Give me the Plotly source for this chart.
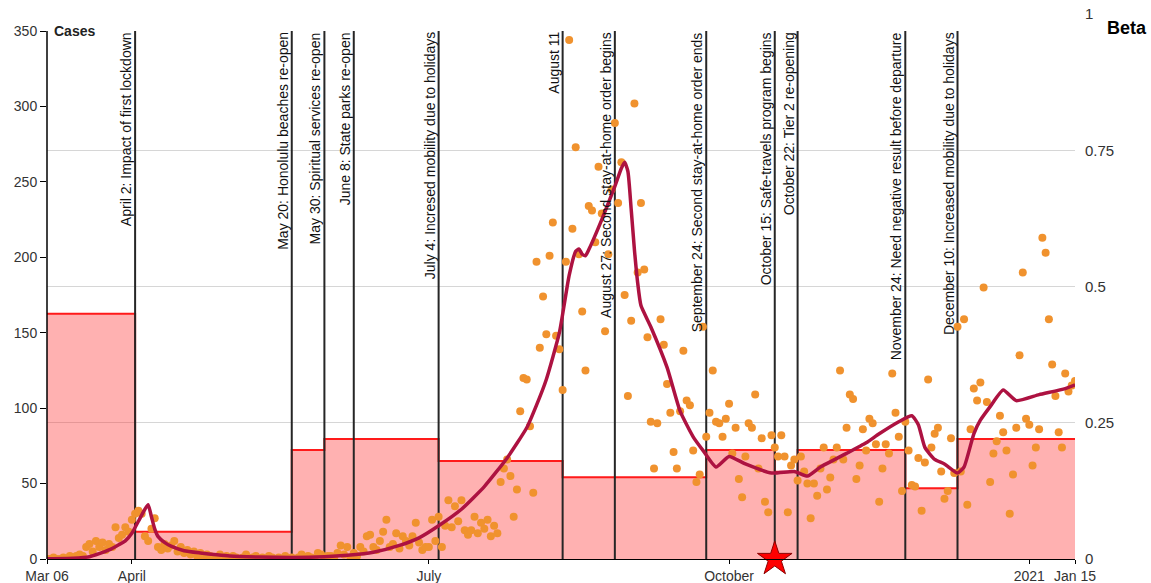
import pandas as pd
import plotly.graph_objects as go

START = "2020-03-06"
END = "2021-01-15"

# Daily reported cases, one list per month (first list starts on Mar 6)
mar_cases = [0, 0, 1, 0, 0, 1, 0, 2, 1, 2, 3, 2, 8, 10, 5, 12, 8, 11, 6, 10, 8, 21, 14, 16, 21, 18]
apr_cases = [26, 30, 32, 30, 15, 12, 20, 27, 8, 6, 10, 7, 9, 12, 5, 8, 4, 6, 3, 5, 2, 4, 1, 3, 2, 0, 1, 3, 0, 2]
may_cases = [0, 2, 1, 0, 1, 3, 0, 1, 2, 0, 1, 0, 2, 1, 0, 1, 0, 2, 0, 1, 0, 1, 3, 0, 2, 1, 0, 4, 3, 1, 2]
jun_cases = [2, 1, 4, 9, 3, 8, 0, 4, 2, 8, 5, 15, 16, 8, 6, 12, 18, 26, 8, 10, 17, 7, 15, 12, 9, 15, 24, 11, 6, 8]
jul_cases = [8, 26, 12, 28, 8, 22, 39, 21, 35, 25, 39, 19, 16, 19, 28, 17, 24, 20, 26, 15, 22, 17, 51, 60, 66, 55, 28, 46, 98, 120, 119]
aug_cases = [88, 44, 197, 140, 174, 149, 201, 223, 148, 139, 112, 197, 344, 219, 273, 202, 164, 125, 234, 231, 210, 260, 229, 151, 202, 245, 289, 236, 263, 175, 108]
sep_cases = [158, 302, 190, 236, 192, 147, 91, 60, 90, 159, 142, 116, 97, 71, 60, 98, 138, 105, 102, 72, 51, 56, 154, 81, 97, 125, 91, 90, 81, 93]
oct_cases = [103, 70, 87, 53, 41, 68, 90, 87, 109, 60, 80, 38, 31, 82, 74, 68, 82, 68, 31, 62, 66, 52, 68, 58, 50, 27, 50, 42, 60, 74, 46]
nov_cases = [54, 66, 74, 125, 66, 87, 109, 106, 53, 62, 86, 72, 93, 90, 76, 38, 60, 76, 70, 123, 97, 81, 45, 91, 72, 49, 48, 67, 32, 64]
dec_cases = [119, 74, 83, 87, 58, 40, 45, 80, 57, 154, 58, 159, 36, 86, 113, 105, 117, 180, 104, 51, 70, 78, 95, 84, 72, 30, 56, 87, 135, 190, 93]
jan_cases = [89, 62, 74, 86, 213, 203, 159, 129, 108, 84, 74, 123, 111, 115, 118]

month_starts = ["2020-03-06", "2020-04-01", "2020-05-01", "2020-06-01", "2020-07-01",
                "2020-08-01", "2020-09-01", "2020-10-01", "2020-11-01", "2020-12-01",
                "2021-01-01"]
month_cases = [mar_cases, apr_cases, may_cases, jun_cases, jul_cases, aug_cases,
               sep_cases, oct_cases, nov_cases, dec_cases, jan_cases]

# Fitted model curve (cases)
curve_dates = ["2020-03-06", "2020-03-14", "2020-03-19", "2020-03-22", "2020-03-25", "2020-03-28",
               "2020-03-30", "2020-04-01", "2020-04-03", "2020-04-05", "2020-04-06", "2020-04-07",
               "2020-04-08", "2020-04-09", "2020-04-11", "2020-04-13", "2020-04-17", "2020-04-22",
               "2020-04-27", "2020-05-01", "2020-05-10", "2020-05-20", "2020-05-30", "2020-06-06",
               "2020-06-14", "2020-06-22", "2020-06-28", "2020-07-04", "2020-07-11", "2020-07-18",
               "2020-07-25", "2020-07-31", "2020-08-03", "2020-08-06", "2020-08-10", "2020-08-13",
               "2020-08-15", "2020-08-16", "2020-08-17", "2020-08-18", "2020-08-19", "2020-08-23",
               "2020-08-27", "2020-08-29", "2020-08-30", "2020-08-31", "2020-09-01", "2020-09-02",
               "2020-09-03", "2020-09-04", "2020-09-07", "2020-09-12", "2020-09-16", "2020-09-20",
               "2020-09-23", "2020-09-27", "2020-10-01", "2020-10-06", "2020-10-14", "2020-10-21",
               "2020-10-25", "2020-10-29", "2020-11-06", "2020-11-12", "2020-11-16", "2020-11-22",
               "2020-11-26", "2020-11-28", "2020-11-30", "2020-12-03", "2020-12-06", "2020-12-10",
               "2020-12-12", "2020-12-15", "2020-12-17", "2020-12-20", "2020-12-24", "2020-12-28",
               "2021-01-04", "2021-01-12", "2021-01-15"]
curve_values = [0.2, 0.5, 1.5, 3.5, 6, 9.5,
                12, 17, 25, 33, 36, 28,
                20, 15, 11, 8.5, 5.5, 4,
                2.8, 2, 1.3, 1, 1.5, 2.5,
                4.5, 9, 14, 22, 33, 48,
                67, 87, 102, 119, 150, 188,
                204, 205.5, 202, 201, 205, 225,
                247, 259, 263, 257, 232, 205,
                183, 168, 154, 127, 98, 81,
                72, 61, 68, 63, 57, 58,
                55, 61, 70, 77, 83, 91,
                95, 89, 74, 66, 63, 57,
                61, 83, 92, 101, 112, 105,
                109, 113, 115.5]

# Transmission rate (beta), piecewise constant between interventions
beta_change_dates = ["2020-03-06", "2020-04-02", "2020-05-20", "2020-05-30", "2020-07-04",
                     "2020-08-11", "2020-09-24", "2020-10-15", "2020-10-22", "2020-11-24",
                     "2020-12-10"]
beta_values = [0.45, 0.05, 0.2, 0.22, 0.18, 0.15, 0.2, 0.16, 0.2, 0.13, 0.22]

# Interventions / events
event_dates = ["2020-04-02", "2020-05-20", "2020-05-30", "2020-06-08", "2020-07-04",
               "2020-08-11", "2020-08-27", "2020-09-24", "2020-10-15", "2020-10-22",
               "2020-11-24", "2020-12-10"]
event_labels = ["April 2: Impact of first lockdown",
                "May 20: Honolulu beaches re-open",
                "May 30: Spiritual services re-open",
                "June 8: State parks re-open",
                "July 4: Incresed mobility due to holidays",
                "August 11",
                "August 27: Second stay-at-home order begins",
                "September 24: Second stay-at-home order ends",
                "October 15: Safe-travels program begins",
                "October 22: Tier 2 re-opening",
                "November 24: Need negative result before departure",
                "December 10: Increased mobility due to holidays"]
EVENT_TOP = 350

star_date = "2020-10-15"

x_tickvals = ["2020-03-06", "2020-04-01", "2020-07-01", "2020-10-01", "2021-01-01", "2021-01-15"]
x_ticktext = ["Mar 06", "April", "July", "October", "2021", "Jan 15"]
case_ticks = [0, 50, 100, 150, 200, 250, 300, 350]
beta_ticks = [0, 0.25, 0.5, 0.75, 1]
beta_ticktext = ["0", "0.25", "0.5", "0.75", "1"]

FONT = "Liberation Sans, Arial, sans-serif"

dot_dates, dot_values = [], []
for start, vals in zip(month_starts, month_cases):
    dot_dates += list(pd.date_range(start, periods=len(vals), freq="D"))
    dot_values += vals

step_x = beta_change_dates + [END]
step_y = beta_values + [beta_values[-1]]

line_x, line_y = [], []
for d in event_dates:
    line_x += [d, d, None]
    line_y += [0, EVENT_TOP, None]

fig = go.Figure()

fig.add_trace(go.Scatter(
    x=step_x, y=step_y, yaxis="y", mode="lines", line_shape="hv",
    line=dict(color="#ff1a1a", width=2), fill="tozeroy",
    fillcolor="rgba(255,40,40,0.36)", hoverinfo="skip"))

fig.add_trace(go.Scatter(
    x=line_x, y=line_y, yaxis="y2", mode="lines",
    line=dict(color="#262626", width=2), hoverinfo="skip"))

fig.add_trace(go.Scatter(
    x=dot_dates, y=dot_values, yaxis="y2", mode="markers",
    marker=dict(color="#f0922e", size=8, line=dict(width=0))))

fig.add_trace(go.Scatter(
    x=curve_dates, y=curve_values, yaxis="y2", mode="lines",
    line=dict(color="#ad1241", width=3.5, shape="spline", smoothing=0.5)))

fig.add_trace(go.Scatter(
    x=[star_date], y=[0], yaxis="y2", mode="markers", cliponaxis=False,
    marker=dict(symbol="star", size=26, color="#ff0000",
                line=dict(color="#8a0000", width=1))))

annotations = []
for d, txt in zip(event_dates, event_labels):
    annotations.append(dict(
        x=d, y=EVENT_TOP, xref="x", yref="y2", text=txt, textangle=-90,
        xanchor="right", yanchor="top", showarrow=False, borderpad=0,
        font=dict(family=FONT, size=14, color="#111111")))
annotations.append(dict(
    x=0, xref="paper", xshift=5, y=EVENT_TOP, yref="y2", text="<b>Cases</b>",
    xanchor="left", yanchor="middle", showarrow=False,
    font=dict(family=FONT, size=14, color="#222222")))
annotations.append(dict(
    x=1, xref="paper", xshift=30, y=1, yref="paper", yshift=-14, text="<b>Beta</b>",
    xanchor="left", yanchor="middle", showarrow=False,
    font=dict(family=FONT, size=18, color="#000000")))

fig.update_layout(
    width=1151, height=583,
    margin=dict(l=47, r=76, t=14, b=24, autoexpand=False),
    paper_bgcolor="white", plot_bgcolor="white",
    showlegend=False,
    font=dict(family=FONT, size=14, color="#333333"),
    xaxis=dict(type="date", range=[START, END], tickvals=x_tickvals, ticktext=x_ticktext,
               showgrid=False, zeroline=False, showline=True, linecolor="#000000",
               linewidth=1, ticks="outside", ticklen=4, tickcolor="#000000",
               automargin=False, tickfont=dict(size=14, color="#333333")),
    yaxis=dict(side="right", range=[0, 1], tickvals=beta_ticks, ticktext=beta_ticktext,
               showgrid=True, gridcolor="#d6d6d6", gridwidth=1, zeroline=False,
               showline=False, ticks="outside", ticklen=6, tickcolor="rgba(0,0,0,0)",
               automargin=False, tickfont=dict(size=15, color="#333333")),
    yaxis2=dict(overlaying="y", side="left", range=[0, 361.3], tickvals=case_ticks,
                showgrid=False, zeroline=False, showline=False, ticks="outside",
                ticklen=6, tickcolor="#000000", automargin=False,
                tickfont=dict(size=14, color="#333333")),
    shapes=[dict(type="line", xref="paper", x0=0, x1=0, yref="y2", y0=0, y1=EVENT_TOP,
                 line=dict(color="#000000", width=1.5))],
    annotations=annotations,
)

fig.write_html("out.html")
